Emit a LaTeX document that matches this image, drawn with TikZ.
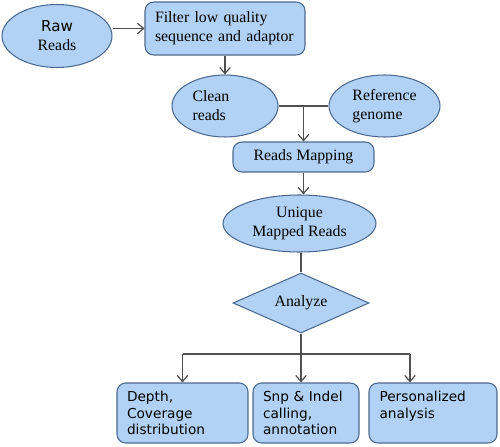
\documentclass[tikz,border=0pt]{standalone}
\usepackage{fontspec}
\setmainfont{Liberation Serif}
\newfontfamily\verd{DejaVu Sans}
\usetikzlibrary{shapes.geometric, arrows.meta}
\definecolor{boxfill}{RGB}{178,210,245}
\definecolor{boxline}{RGB}{75,105,145}
\definecolor{wire}{RGB}{80,80,80}
\tikzset{
    blob/.style={ellipse, draw=boxline, fill=boxfill, line width=0.6pt, inner sep=0pt,
        font=\fontsize{9}{10.8}\selectfont},
    panel/.style={rectangle, rounded corners=5pt, draw=boxline, fill=boxfill, line width=0.6pt,
        inner sep=0pt, font=\fontsize{9}{10.8}\selectfont},
    result/.style={panel, minimum height=1.2cm, align=left, font=\verd\fontsize{7.8}{9.4}\selectfont},
    judge/.style={diamond, aspect=2.27, draw=boxline, fill=boxfill, line width=0.6pt, inner sep=0pt,
        minimum width=2.72cm, minimum height=1.2cm, font=\fontsize{9}{10.8}\selectfont},
    link/.style={draw=wire, line width=0.7pt, -{Straight Barb[length=3.5pt, width=6pt]}},
    bare/.style={draw=wire, line width=0.7pt},
}
\begin{document}
\begin{tikzpicture}[x=0.02cm, y=-0.02cm]
        \useasboundingbox (0,0) rectangle (500,446);
        % first row
        \node[blob, minimum width=2.2cm, minimum height=1.26cm, align=center] (raw) at (57,36)
            {{\verd\fontsize{8.6}{9}\selectfont Raw}\\Reads};
        \node[panel, minimum width=3.2cm, minimum height=1.06cm, text width=2.8cm, align=left] (filter) at (225,28.5)
            {Filter low quality\\sequence and adaptor};
        % inputs of the mapping
        \node[blob, minimum width=2.12cm, minimum height=1.24cm, text width=1.3cm, align=left] (clean) at (225,106)
            {Clean\\reads};
        \node[blob, minimum width=2.22cm, minimum height=1.24cm, align=left] (refgen) at (384.5,106) {Reference\\genome};
        \node[panel, minimum width=2.82cm, minimum height=0.6cm] (mapping) at (303.5,157) {Reads Mapping};
        \node[blob, minimum width=3.06cm, minimum height=1.14cm, align=center] (unique) at (299.5,223.5)
            {Unique\\Mapped Reads};
        \node[judge] (analyze) at (301,303) {Analyze};
        % results
        \node[result, minimum width=2.62cm, text width=2.22cm] (depth) at (182.5,413)
            {Depth,\\Coverage\\distribution};
        \node[result, minimum width=2.12cm, text width=1.72cm] (snp) at (306,413)
            {Snp \& Indel\\calling,\\annotation};
        \node[result, minimum width=2.56cm, text width=2.14cm] (personal) at (433,413)
            {Personalized\\analysis\\\mbox{}};
        \coordinate (fork) at (301,354);
        \coordinate (pin) at ([xshift=-0.46cm]personal.north);

        \draw[link] (raw.east |- filter.west) -- (filter.west);
        \draw[link] (filter.south) -- (clean.north);
        \draw[bare] (clean.east) -- (refgen.west);
        \draw[link] (clean.east -| mapping.north) -- (mapping.north);
        \draw[link] (mapping.south) -- (mapping.south |- unique.north);
        \draw[bare] (unique.south -| analyze.north) -- (analyze.north);
        \draw[bare] (analyze.south) -- (fork);
        \draw[bare] (fork -| depth.north) -- (fork -| pin);
        \draw[link] (fork -| depth.north) -- (depth.north);
        \draw[link] (fork) -- (fork |- snp.north);
        \draw[link] (fork -| pin) -- (pin);
    \end{tikzpicture}
\end{document}
